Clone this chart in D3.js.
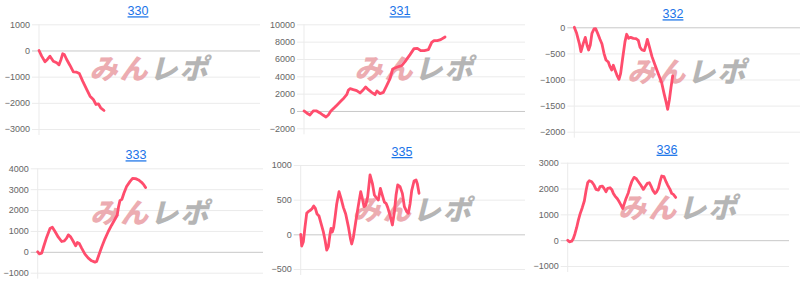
<!DOCTYPE html>
<html>
<head>
<meta charset="utf-8">
<script src="https://cdn.jsdelivr.net/npm/d3@7"></script>
<style>
  body { margin: 0; background: #fff; }
  svg { display: block; font-family: "Liberation Sans", Arial, sans-serif; }
</style>
</head>
<body>
<svg id="chart" width="800" height="281"></svg>
<script>
// machine numbers
const machines = ["330", "331", "332", "333", "335", "336"];

// [games, diff]
const s330 = [[0,0],[97,-217],[217,-433],[302,-344],[398,-217],[519,-408],[640,-471],[724,-548],[797,-344],[857,-127],[917,-153],[1002,-344],[1123,-573],[1243,-815],[1364,-828],[1460,-879],[1581,-1172],[1726,-1490],[1847,-1745],[1967,-1873],[2064,-2064],[2148,-2038],[2233,-2191],[2354,-2293]];
const s331 = [[0,0],[97,-230],[217,-460],[338,0],[459,0],[579,-230],[700,-500],[797,-690],[881,-460],[966,-40],[1086,350],[1207,730],[1328,1120],[1448,1500],[1545,1880],[1605,2380],[1666,2580],[1786,2460],[1907,2350],[2028,2080],[2148,2460],[2233,2770],[2330,2460],[2450,2150],[2571,1880],[2643,2310],[2752,2000],[2873,2150],[2993,2920],[3114,3730],[3211,4850],[3355,5040],[3537,5230],[3657,5690],[3838,6500],[3983,7190],[4104,7230],[4225,6960],[4357,6960],[4502,7080],[4623,7920],[4707,8120],[4828,8120],[4949,8230],[5106,8540]];
const s332 = [[0,0],[83,-115],[177,-307],[236,-466],[319,-307],[390,-192],[449,-339],[508,-435],[567,-339],[626,-115],[697,-32],[756,-26],[827,-115],[910,-230],[981,-320],[1052,-498],[1123,-626],[1206,-665],[1265,-754],[1324,-818],[1383,-728],[1442,-818],[1513,-920],[1584,-997],[1643,-882],[1714,-594],[1797,-275],[1856,-134],[1927,-211],[1998,-192],[2092,-211],[2187,-217],[2269,-249],[2329,-383],[2399,-435],[2482,-447],[2541,-339],[2589,-230],[2660,-371],[2754,-562],[2861,-722],[2979,-895],[3097,-1061],[3180,-1265],[3251,-1425],[3310,-1572],[3369,-1393],[3428,-1150],[3487,-933]];
const s333 = [[0,0],[59,-96],[142,-64],[213,255],[319,701],[437,1116],[520,1179],[615,972],[733,701],[851,494],[946,526],[1028,653],[1087,813],[1170,717],[1265,494],[1348,287],[1407,446],[1478,398],[1560,175],[1678,-112],[1797,-303],[1915,-430],[2033,-494],[2092,-462],[2175,-143],[2270,223],[2388,622],[2506,972],[2624,1275],[2742,1562],[2825,1769],[2872,2167],[2920,2454],[2990,2518],[3061,2805],[3156,3124],[3274,3363],[3369,3522],[3475,3506],[3581,3442],[3688,3331],[3771,3203],[3830,3076]];
const s335 = [[0,0],[36,-168],[95,-106],[155,111],[214,303],[285,332],[357,351],[404,370],[464,409],[523,375],[583,293],[654,264],[725,159],[809,34],[868,-82],[928,-226],[987,-178],[1046,5],[1082,87],[1130,34],[1177,101],[1225,245],[1284,438],[1367,615],[1439,519],[1522,389],[1605,293],[1700,111],[1772,-58],[1819,-139],[1879,-43],[1962,178],[2057,418],[2140,615],[2200,514],[2259,399],[2319,418],[2390,543],[2473,856],[2556,736],[2628,567],[2687,534],[2770,495],[2842,663],[2913,563],[2984,466],[3044,447],[3103,389],[3187,274],[3270,135],[3341,322],[3401,567],[3460,712],[3543,688],[3626,591],[3698,399],[3781,327],[3840,303],[3900,438],[3959,630],[4043,769],[4114,784],[4162,726],[4221,591]];
const s336 = [[0,0],[60,-65],[145,-39],[205,65],[265,259],[325,492],[386,776],[446,1009],[530,1268],[603,1527],[663,1915],[723,2225],[783,2303],[868,2264],[952,2134],[1024,1966],[1109,1940],[1169,2070],[1253,2096],[1313,2005],[1386,1876],[1446,2005],[1530,2031],[1591,1966],[1651,1811],[1711,1708],[1795,1604],[1868,1475],[1928,1358],[1988,1229],[2049,1423],[2109,1617],[2193,1837],[2253,2070],[2314,2264],[2398,2432],[2470,2393],[2555,2264],[2639,2134],[2735,1966],[2796,2070],[2880,2199],[2952,2225],[3013,2096],[3073,1940],[3157,1811],[3217,1876],[3278,2005],[3338,2264],[3398,2484],[3482,2458],[3555,2264],[3615,2134],[3699,1966],[3759,1811],[3820,1772],[3904,1656]];

// y tick labels per machine
const ticks330 = [1000, 0, -1000, -2000, -3000];
const ticks331 = [10000, 8000, 6000, 4000, 2000, 0, -2000];
const ticks332 = [0, -500, -1000, -1500, -2000];
const ticks333 = [4000, 3000, 2000, 1000, 0, -1000];
const ticks335 = [1000, 500, 0, -500];
const ticks336 = [3000, 2000, 1000, 0, -1000];

const series = [s330, s331, s332, s333, s335, s336];
const ticks = [ticks330, ticks331, ticks332, ticks333, ticks335, ticks336];
const gamesMax = 8000;

// panel layout: plot box [left, top, right, bottom], title centre x
const layout = [
  {box: [39, 24.3, 260, 129], tx: 138},
  {box: [304, 24.3, 525, 128.3], tx: 400},
  {box: [574.3, 27.3, 800, 131.7], tx: 673},
  {box: [37.7, 168.3, 263, 272.7], tx: 136},
  {box: [300.7, 165, 525, 269], tx: 402},
  {box: [567.7, 162.7, 789, 266], tx: 667}
];

const svg = d3.select("#chart");
const lineColor = "#ff4d6d";

machines.forEach((m, i) => {
  const [x0, y0, x1, y1] = layout[i].box;
  const tk = ticks[i];
  const g = svg.append("g");

  const x = d3.scaleLinear().domain([0, gamesMax]).range([x0, x1]);
  const y = d3.scaleLinear().domain(d3.extent(tk)).range([y1, y0]);

  // title link
  g.append("text")
    .attr("x", layout[i].tx).attr("y", y0 - 9)
    .attr("text-anchor", "middle")
    .attr("font-size", 12.5)
    .attr("fill", "#1a73e8")
    .style("text-decoration", "underline")
    .text(m);

  // grid + tick marks
  const yAxis = d3.axisLeft(y).tickValues(tk).tickSize(-(x1 - x0)).tickPadding(9).tickFormat(d3.format("d"));
  const ax = g.append("g").attr("transform", `translate(${x0},0)`).call(yAxis);
  ax.select(".domain").remove();
  ax.selectAll(".tick line")
    .attr("x1", -7)
    .attr("stroke", d => d === 0 ? "#c8c8c8" : "#ebebeb");
  ax.selectAll(".tick text")
    .attr("font-size", 9)
    .attr("fill", "#666")
    .attr("font-family", "'Liberation Sans', Arial, sans-serif");
  g.append("line")
    .attr("x1", x0).attr("x2", x0).attr("y1", y0).attr("y2", y1 + 6)
    .attr("stroke", "#ebebeb");

  // watermark
  const cx = (x0 + x1) / 2, cy = y0 + 45;
  const wm = g.append("text")
    .attr("transform", `translate(${cx},${cy + 10}) skewX(-14)`)
    .attr("text-anchor", "middle")
    .attr("font-family", "'Noto Sans CJK JP', sans-serif")
    .attr("font-weight", 900)
    .attr("font-size", 28)
    .attr("letter-spacing", 2);
  wm.append("tspan").attr("fill", "#ecacb1").text("みん");
  wm.append("tspan").attr("fill", "#b5b5b5").text("レポ");

  // line
  const line = d3.line().x(d => x(d[0])).y(d => y(d[1]));
  g.append("path")
    .datum(series[i])
    .attr("d", line)
    .attr("fill", "none")
    .attr("stroke", lineColor)
    .attr("stroke-width", 2.8)
    .attr("stroke-linejoin", "round")
    .attr("stroke-linecap", "round");
});
</script>
</body>
</html>
